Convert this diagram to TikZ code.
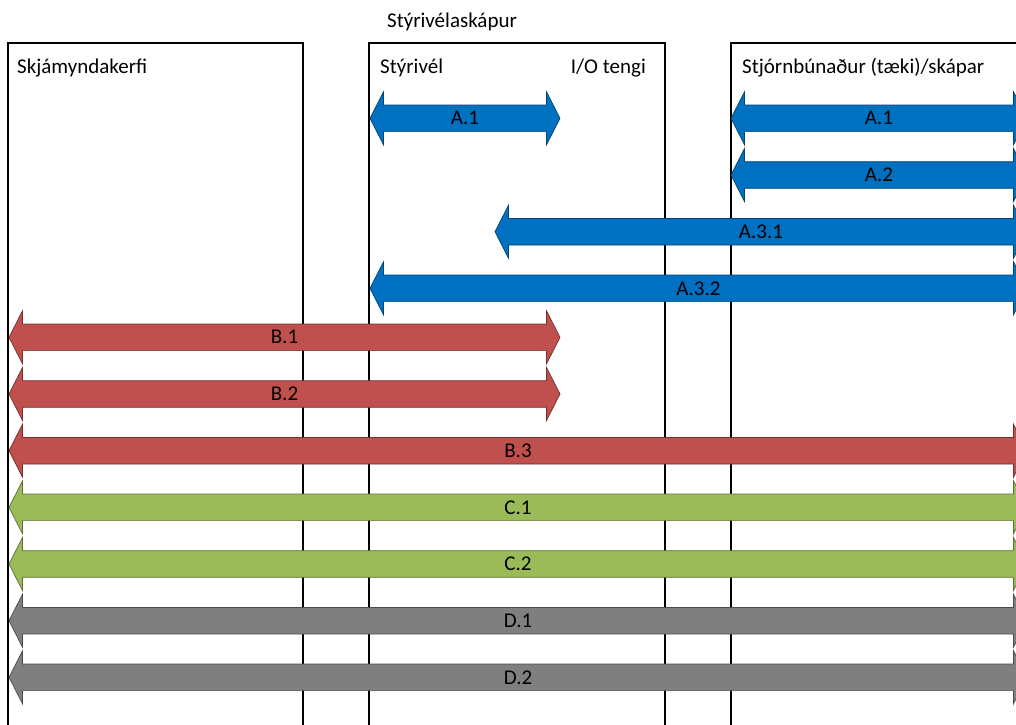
\documentclass[tikz,border=0pt]{standalone}
\usepackage{fontspec}
\setmainfont{Carlito}
\usetikzlibrary{positioning}

\definecolor{ablue}{HTML}{0070C0}
\definecolor{ared}{HTML}{C0504D}
\definecolor{agreen}{HTML}{9BBB59}
\definecolor{agray}{HTML}{7F7F7F}

% double block arrow: name, left tip, right tip, row, colour, label
\newcommand{\dblarrow}[6]{%
  \draw[barrow, fill=#5, draw=#5!60!black]
    (#2,#4) -- ++(13.5,-26.5) -- ++(0,13.2) -- ({#3-13.5},{#4-13.3}) -- ++(0,-13.2) -- (#3,#4)
    -- ({#3-13.5},{#4+26.5}) -- ++(0,-13.2) -- ({#2+13.5},{#4+13.3}) -- ++(0,13.2) -- cycle;
  \node[alabel] (#1) at ({(#2+#3)/2},#4) {#6};}

\begin{document}
\begin{tikzpicture}
  [
  x = 1pt, y = -1pt,
  every node/.style={font=\fontsize{21}{25}\selectfont, inner sep=0pt},
  box/.style={draw=black, line width=1.3pt},
  barrow/.style={line width=0.7pt, line join=miter},
  alabel/.style={anchor=center},
  blabel/.style={anchor=base west}
  ]
  \useasboundingbox (0,0) rectangle (1016,724);
  \clip (0,0) rectangle (1016,724);

  \draw[box] (8,800)   |- (303,43) -- (303,800);
  \draw[box] (369,800) |- (665,43) -- (665,800);
  \draw[box] (731,800) |- (1100,43);

  \node[anchor=base]             (cab)  at (452,27) {Stýrivélaskápur};
  \node[blabel]                  (scr)  at (17,73)  {Skjámyndakerfi};
  \node[blabel]                  (plc)  at (380,73) {Stýrivél};
  \node[blabel, anchor=base east] (io)  at (646,73) {I/O tengi};
  \node[blabel]                  (dev)  at (742,73) {Stjórnbúnaður (tæki)/skápar};

  \dblarrow{a1l}{370}{560}{118.3}{ablue}{A.1}
  \dblarrow{a1r}{731}{1027}{118.3}{ablue}{A.1}
  \dblarrow{a2}{731}{1027}{175}{ablue}{A.2}
  \dblarrow{a31}{495}{1027}{231.7}{ablue}{A.3.1}
  \dblarrow{a32}{370}{1027}{288.3}{ablue}{A.3.2}
  \dblarrow{b1}{9}{560}{337.3}{ared}{B.1}
  \dblarrow{b2}{9}{560}{394}{ared}{B.2}
  \dblarrow{b3}{9}{1027}{450.7}{ared}{B.3}
  \dblarrow{c1}{9}{1027}{507.3}{agreen}{C.1}
  \dblarrow{c2}{9}{1027}{564}{agreen}{C.2}
  \dblarrow{d1}{9}{1027}{620.7}{agray}{D.1}
  \dblarrow{d2}{9}{1027}{677.3}{agray}{D.2}
\end{tikzpicture}
\end{document}
